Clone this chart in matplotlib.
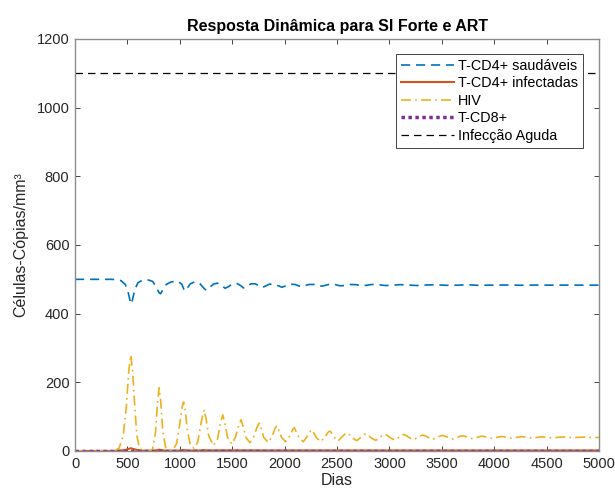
import matplotlib
matplotlib.use("Agg")
import matplotlib.pyplot as plt

plt.rcParams['font.family'] = ['Liberation Sans', 'DejaVu Sans']

# ******************* data *******************
# T-CD4+ saudaveis
cd4_days = [0, 350, 400, 440, 480, 505, 525, 535, 548, 570, 600, 640, 700, 740, 775, 800,
            816, 835, 870, 920, 985, 1020, 1040, 1050, 1070, 1100, 1145, 1190, 1230, 1250,
            1275, 1320, 1360, 1400, 1432, 1460, 1500, 1545, 1580, 1607, 1640, 1680, 1720,
            1755, 1783, 1815, 1855, 1900, 1950, 1975, 2010, 2050, 2100, 2150, 2190, 2230,
            2290, 2330, 2370, 2420, 2480, 2530, 2570, 2620, 2680, 2730, 2780, 2830, 2900,
            2960, 3020, 3100, 3180, 3260, 3350, 3450, 3550, 3650, 3750, 3850, 3950, 4100,
            4250, 4400, 4550, 4700, 4850, 5000]
cd4_vals = [500, 500, 499, 496, 485, 465, 438, 428, 440, 470, 490, 497, 498, 494, 478, 462,
            458, 468, 485, 493, 494, 485, 470, 466, 474, 487, 493, 488, 474, 468,
            474, 486, 489, 482, 474, 478, 486, 488, 482, 475, 480, 487, 487,
            481, 476, 480, 486, 486, 480, 477, 481, 486, 485, 479, 481, 485,
            485, 480, 481, 485, 485, 481, 482, 485, 484.5, 481.5, 482.5, 485, 484,
            482, 482.5, 484.5, 483.5, 482, 483.5, 484, 482.5, 483, 484, 482.5, 483, 483.5,
            482.8, 483.3, 483, 483.2, 483, 483]

# T-CD4+ infectadas
inf_days = [0, 400, 480, 510, 532, 555, 590, 640, 760, 790, 803, 820, 860, 1000, 1036,
            1070, 1200, 1231, 1270, 1410, 1585, 1760, 2000, 3000, 4000, 5000]
inf_vals = [0, 0.3, 3, 6, 8, 6, 3, 1, 1, 3, 4, 3, 1, 1.2, 3, 1.5, 1.5, 2.5, 1.6, 2, 1.8,
            1.7, 1.6, 1.5, 1.5, 1.5]

# HIV
hiv_days = [0, 300, 380, 420, 460, 490, 512, 532, 550, 570, 590, 615, 650, 715,
            740, 768, 788, 803, 818, 838, 865, 895, 935, 970, 1000, 1022, 1036, 1052,
            1072, 1100, 1135, 1170, 1205, 1231, 1250, 1275, 1320, 1360, 1390, 1410,
            1430, 1455, 1497, 1530, 1565, 1585, 1605, 1630, 1670, 1705, 1740, 1758,
            1778, 1800, 1843, 1880, 1910, 1927, 1945, 1970, 2010, 2045, 2078, 2093,
            2110, 2135, 2178, 2215, 2248, 2262, 2280, 2305, 2345, 2385, 2420, 2435,
            2455, 2480, 2510, 2550, 2585, 2600, 2620, 2650, 2690, 2730, 2765, 2780,
            2800, 2830, 2870, 2910, 2945, 2960, 2985, 3015, 3050, 3090, 3125, 3140,
            3165, 3195, 3230, 3275, 3310, 3325, 3350, 3380, 3415, 3460, 3495, 3510,
            3540, 3570, 3605, 3650, 3685, 3700, 3730, 3760, 3795, 3840, 3875, 3890,
            3920, 3950, 3985, 4030, 4065, 4080, 4110, 4140, 4175, 4220, 4260, 4275,
            4305, 4335, 4370, 4415, 4455, 4470, 4500, 4530, 4565, 4610, 4650, 4665,
            4695, 4725, 4760, 4805, 4845, 4860, 4890, 4920, 4950, 5000]
hiv_vals = [0.5, 0.5, 1, 8, 45, 130, 230, 280, 230, 130, 45, 8, 1, 0.5,
            5, 55, 145, 184, 145, 55, 10, 2, 3, 22, 80, 128, 143, 118,
            60, 18, 8, 25, 85, 120, 95, 45, 16, 35, 85, 105,
            80, 40, 20, 40, 78, 91, 70, 40, 24, 42, 72, 81,
            64, 40, 25, 42, 67, 74, 60, 40, 27, 42, 63, 68,
            56, 40, 27, 42, 59, 62, 52, 38, 27, 42, 56, 58,
            50, 38, 29, 42, 52, 53, 47, 37, 30, 41, 49, 50,
            45, 37, 31, 40, 48, 49, 44, 37, 32, 40, 47, 48,
            44, 38, 33, 40, 46, 46, 43, 38, 34, 40, 45, 45,
            42, 38, 35, 40, 44, 44, 42, 38.5, 36, 40, 43, 43,
            41, 38.5, 36.5, 40, 42, 42, 40.5, 38.5, 37, 40, 41.5, 41.5,
            40, 38.5, 37.5, 40, 41, 41, 40, 38.5, 38, 40, 40.8, 40.8,
            40, 39, 38.5, 40, 40.5, 40.5, 40, 39.2, 39, 39.8]

# T-CD8+
cd8_days = [0, 5000]
cd8_vals = [1, 1]

# Infeccao Aguda
aguda_days = [0, 5000]
aguda_vals = [1100, 1100]

# ******************* plot *******************
figure = plt.figure(figsize=(6.15, 5.0), dpi=100)
ax = figure.add_axes([0.122, 0.098, 0.852, 0.824])

ax.plot(cd4_days, cd4_vals, color='#0072BD', linestyle=(0, (5.5, 3.5)), linewidth=1.2,
        label='T-CD4+ saudáveis')
ax.plot(inf_days, inf_vals, color='#D95319', linestyle='-', linewidth=1.5,
        label='T-CD4+ infectadas')
ax.plot(hiv_days, hiv_vals, color='#EDB120', linestyle=(0, (6, 2.5, 1, 2.5)), linewidth=1.2,
        label='HIV')
ax.plot(cd8_days, cd8_vals, color='#7E2F8E', linestyle=(0, (1, 1)), linewidth=2.5,
        label='T-CD8+')
ax.plot(aguda_days, aguda_vals, color='black', linestyle=(0, (6, 4)), linewidth=0.9,
        label='Infecção Aguda')

ax.set_xlim(0, 5000)
ax.set_ylim(0, 1200)
ax.set_xticks(range(0, 5001, 500))
ax.set_yticks(range(0, 1201, 200))
ax.tick_params(direction='in', top=True, right=True, length=3.5, width=0.6,
               labelsize=10.5, colors='#262626', pad=4)
for s in ax.spines.values():
    s.set_color('#8c8c8c')
    s.set_linewidth(1.0)

ax.set_title('Resposta Dinâmica para SI Forte e ART', fontsize=11.5, fontweight='bold', pad=6)
ax.set_xlabel('Dias', fontsize=11.5, color='#262626', labelpad=2)
ax.set_ylabel('Células-Cópias/mm³', fontsize=11.5, color='#262626', labelpad=6)

leg = ax.legend(loc='upper right', bbox_to_anchor=(0.969, 0.964), fontsize=10.4,
                frameon=True, fancybox=False, framealpha=1, borderpad=0.35,
                labelspacing=0.24, handlelength=3.7, handletextpad=0.25, borderaxespad=0)
leg.get_frame().set_edgecolor('#262626')
leg.get_frame().set_linewidth(0.6)

figure.savefig('out.png', dpi=100)
